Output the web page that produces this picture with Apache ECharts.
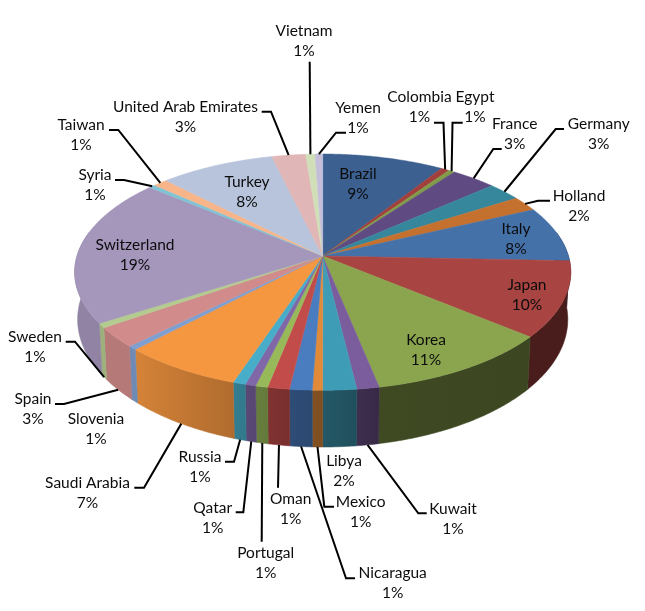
<!DOCTYPE html>
<html><head><meta charset="utf-8">
<style>html,body{margin:0;padding:0;background:#fff}#c{width:645px;height:611px}</style>
<script src="https://cdn.jsdelivr.net/npm/echarts@6/dist/echarts.min.js"></script>
</head><body><div id="c"></div>
<script>
var categories = ["Brazil","Colombia","Egypt","France","Germany","Holland","Italy","Japan","Korea","Kuwait","Libya","Mexico","Nicaragua","Oman","Portugal","Qatar","Russia","Saudi Arabia","Slovenia","Spain","Sweden","Switzerland","Syria","Taiwan","Turkey","United Arab Emirates","Vietnam","Yemen"];
var values = [9.06,0.61,0.47,3.36,2.53,2.03,7.58,10.36,10.81,1.28,1.92,0.58,1.28,1.25,0.69,0.61,0.72,6.92,0.53,2.75,0.61,20.19,0.47,1.06,8.56,2.53,0.69,0.56];
var percentLabels = ["9%","1%","1%","3%","3%","2%","8%","10%","11%","1%","2%","1%","1%","1%","1%","1%","1%","7%","1%","3%","1%","19%","1%","1%","8%","3%","1%","1%"];
var colors = ["#3c6090","#a03f3c","#809c48","#5f4a82","#37879c","#c4702e","#4571a9","#a84442","#8ba54e","#7b5c9c","#3f9cb6","#e08a3a","#4a7cc0","#c24c4a","#98b95a","#8067a8","#47adc8","#f59640","#7f9fd0","#d08b8a","#b3cb8e","#a596bc","#7fc3d5","#f9b58a","#b7c4dc","#e0b7b6","#d1dfb9","#c5bedb"];

/* label centre and leader elbow points, in layout order of categories */
var labelLayout = {
 "Brazil":{c:[358,184]},"Colombia":{c:[419.5,107],l:[[434,122.7],[443.5,122.7]]},"Egypt":{c:[475,107],l:[[462.7,122.7],[452.5,122.7]]},
 "France":{c:[514.7,134],l:[[501.7,149],[493.3,149]]},"Germany":{c:[598.7,134],l:[[564,129],[555.7,129]]},"Holland":{c:[579,206],l:[[550,200.7],[538,200.7]]},
 "Italy":{c:[516,239]},"Japan":{c:[527,295]},"Korea":{c:[426,350]},"Kuwait":{c:[453,519],l:[[426.7,513.3],[418.3,513.3]]},
 "Libya":{c:[344,471]},"Mexico":{c:[360.7,512],l:[[334,506.7],[324.3,506.7]]},"Nicaragua":{c:[392.7,583],l:[[355,578.3],[346,578.3]]},
 "Oman":{c:[290.7,509],l:[[278,487.7]]},"Portugal":{c:[265.7,563],l:[[261.7,541.7]]},"Qatar":{c:[212.7,518],l:[[235.7,512.3],[243.3,512.3]]},
 "Russia":{c:[200,467],l:[[225,461.7],[234,461.7]]},"Saudi Arabia":{c:[87.5,492.7],l:[[134.3,487.7],[144,487.7]]},"Slovenia":{c:[96,429]},
 "Spain":{c:[33,409],l:[[55,404],[64,404]]},"Sweden":{c:[35,347],l:[[65.7,341.7],[75,341.7]]},"Switzerland":{c:[135,255]},
 "Syria":{c:[95,185],l:[[115,180],[124,180]]},"Taiwan":{c:[81,135],l:[[109,130],[118.3,130]]},"Turkey":{c:[247,191.5]},
 "United Arab Emirates":{c:[185.5,117],l:[[261.7,111.7],[271,111.7]]},"Vietnam":{c:[304,41],l:[[309.7,61.7]]},"Yemen":{c:[358,118],l:[[346,132.7],[336,132.7]]}
};

var CX=322.7,CY=256,R=245.7,H=115.9,K=0.1367,BX=0.988,BY=1.08,BD=46;
var total=values.reduce(function(a,b){return a+b;},0);
var starts=[],acc=0;
values.forEach(function(v){starts.push(acc/total*360);acc+=v;});
function proj(deg,bottom){
  var t=deg*Math.PI/180,u=Math.sin(t),v=Math.cos(t),s=1/(1+K*v);
  var dx=R*u*s,dy=-H*v*s;
  return bottom?[CX+BX*dx,CY+BD+BY*dy]:[CX+dx,CY+dy];
}
var shadeKnots=[[75,.87],[135,.87],[180,.8],[235,.72],[290,.62],[350,.52],[380,.45],[530,.43],[575,.43]];
function hex(c,f){
  var r=parseInt(c.substr(1,2),16),g=parseInt(c.substr(3,2),16),b=parseInt(c.substr(5,2),16);
  return 'rgb('+Math.round(r*f)+','+Math.round(g*f)+','+Math.round(b*f)+')';
}
function wallFill(c){
  var x0=75,x1=575;
  return new echarts.graphic.LinearGradient(x0,0,x1,0,shadeKnots.map(function(k){
    return {offset:(k[0]-x0)/(x1-x0),color:hex(c,k[1])};
  }),true);
}
function renderWall(p){
  var i=p.dataIndex,a=Math.max(starts[i],78),b=Math.min(starts[i]+values[i]/total*360,282);
  if(b<=a) return null;
  var top=[],bot=[],n=Math.max(2,Math.ceil((b-a)*2));
  for(var j=0;j<=n;j++){var d=a+(b-a)*j/n;top.push(proj(d,false));bot.unshift(proj(d,true));}
  var f=wallFill(colors[i]);
  return {type:'polygon',shape:{points:top.concat(bot)},style:{fill:f,stroke:f,lineWidth:.6}};
}
function renderTop(p){
  var i=p.dataIndex,a=starts[i],b=a+values[i]/total*360,pts=[[CX,CY]],n=Math.max(2,Math.ceil((b-a)*2));
  for(var j=0;j<=n;j++) pts.push(proj(a+(b-a)*j/n,false));
  return {type:'polygon',shape:{points:pts},style:{fill:colors[i],stroke:colors[i],lineWidth:.5}};
}
function renderLabel(p){
  var i=p.dataIndex,name=categories[i],L=labelLayout[name],kids=[];
  if(L.l){
    var mid=starts[i]+values[i]/total*180,bottom=mid>92&&mid<268;
    kids.push({type:'polyline',shape:{points:L.l.concat([proj(mid,bottom)])},style:{fill:null,stroke:'#000',lineWidth:2}});
  }
  kids.push({type:'text',x:L.c[0],y:L.c[1],style:{text:name+'\n'+percentLabels[i],fill:'#0c0c0c',font:'15.5px Lato',lineHeight:20,align:'center',verticalAlign:'middle'}});
  return {type:'group',children:kids};
}
var idx=categories.map(function(c,i){return {name:c,value:[i,values[i]]};});
var chart=echarts.init(document.getElementById('c'),null,{renderer:'canvas'});
chart.setOption({
  animation:false,backgroundColor:'#fff',
  series:[
    {type:'custom',coordinateSystem:'none',z:1,silent:true,data:idx,renderItem:renderWall},
    {type:'custom',coordinateSystem:'none',z:2,silent:true,data:idx,renderItem:renderTop},
    {type:'custom',coordinateSystem:'none',z:3,silent:true,data:idx,renderItem:renderLabel}
  ]
});
</script></body></html>
